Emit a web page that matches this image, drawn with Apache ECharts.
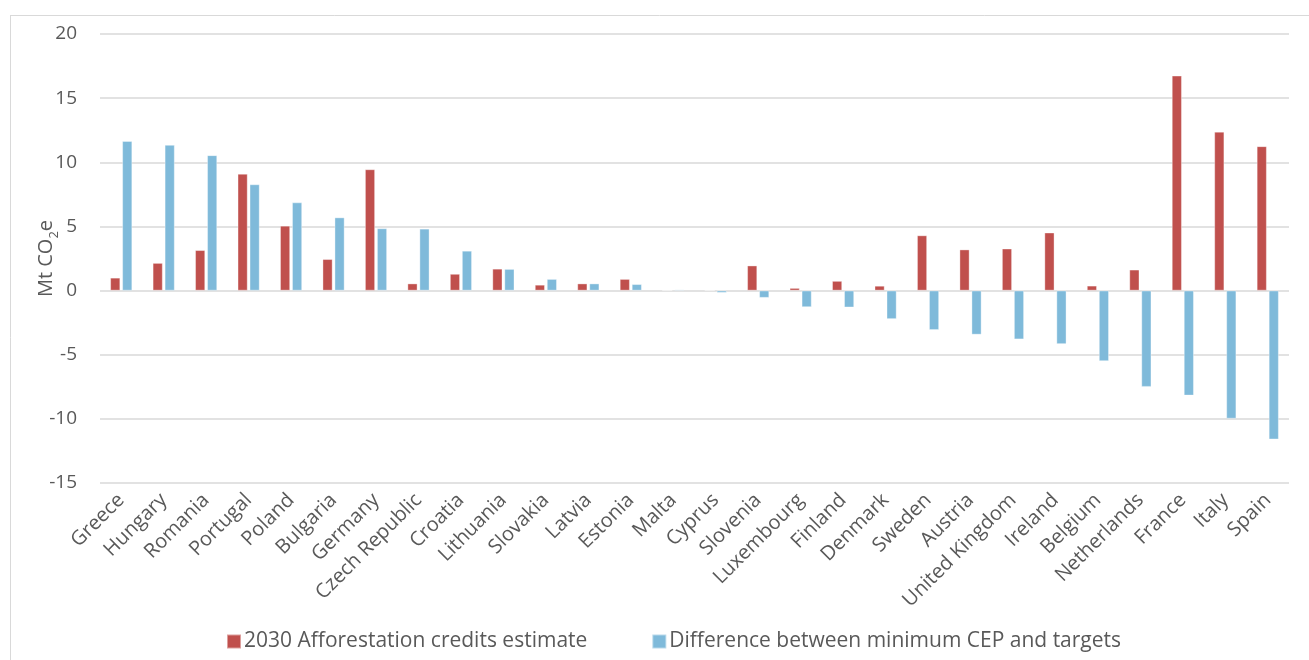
<!DOCTYPE html>
<html>
<head>
<meta charset="utf-8">
<style>
  html, body { margin: 0; padding: 0; background: #fff; }
  #chart { width: 1309px; height: 660px; }
</style>
<script src="https://cdn.jsdelivr.net/npm/echarts@6/dist/echarts.min.js"></script>
</head>
<body>
<div id="chart"></div>
<script>
// Member states, ordered by the gap between minimum CEP and targets
const countries = ['Greece', 'Hungary', 'Romania', 'Portugal', 'Poland', 'Bulgaria', 'Germany',
  'Czech Republic', 'Croatia', 'Lithuania', 'Slovakia', 'Latvia', 'Estonia', 'Malta', 'Cyprus',
  'Slovenia', 'Luxembourg', 'Finland', 'Denmark', 'Sweden', 'Austria', 'United Kingdom',
  'Ireland', 'Belgium', 'Netherlands', 'France', 'Italy', 'Spain'];

// Mt CO2e
const afforestationCredits = [1.0, 2.15, 3.15, 9.1, 5.05, 2.45, 9.45, 0.55, 1.3, 1.7, 0.45, 0.55,
  0.9, 0, 0, 1.95, 0.2, 0.75, 0.37, 4.3, 3.2, 3.27, 4.52, 0.38, 1.63, 16.75, 12.38, 11.25];
const cepDifference = [11.65, 11.35, 10.55, 8.28, 6.87, 5.7, 4.85, 4.82, 3.1, 1.68, 0.9, 0.55,
  0.5, 0.08, -0.17, -0.56, -1.29, -1.31, -2.22, -3.07, -3.43, -3.8, -4.17, -5.5, -7.5, -8.18,
  -9.98, -11.6];

const seriesNames = ['2030 Afforestation credits estimate', 'Difference between minimum CEP and targets'];
const yTicks = { min: -15, max: 20, step: 5 };

const FONT = 'Open Sans';
const TEXT = '#595959';
const GRID = '#d9d9d9';

const chart = echarts.init(document.getElementById('chart'), null, { renderer: 'canvas' });

chart.setOption({
  backgroundColor: '#ffffff',
  animation: false,
  textStyle: { fontFamily: FONT, color: TEXT },
  graphic: [
    // outer chart-area frame (top and left edges)
    { type: 'line', shape: { x1: 10, y1: 15.5, x2: 1309, y2: 15.5 }, style: { stroke: GRID, lineWidth: 1 }, silent: true },
    { type: 'line', shape: { x1: 10.5, y1: 15, x2: 10.5, y2: 660 }, style: { stroke: GRID, lineWidth: 1 }, silent: true }
  ],
  grid: { left: 100, right: 20, top: 34, bottom: 177 },
  legend: {
    left: 221,
    top: 626,
    itemWidth: 14,
    itemHeight: 14,
    itemGap: 64,
    icon: 'rect',
    textStyle: { fontFamily: FONT, fontSize: 21, color: TEXT, padding: [0, 0, 0, -2] },
    data: seriesNames
  },
  xAxis: {
    type: 'category',
    data: countries,
    axisLine: { show: false },
    axisTick: { show: false },
    axisLabel: {
      rotate: 45,
      interval: 0,
      margin: 14,
      fontFamily: FONT,
      fontSize: 20,
      color: TEXT
    }
  },
  yAxis: {
    type: 'value',
    min: yTicks.min,
    max: yTicks.max,
    interval: yTicks.step,
    name: '{a|Mt CO}{s|2}{a|e}',
    nameLocation: 'middle',
    nameRotate: 90,
    nameGap: 44,
    nameMoveOverlap: false,
    nameTextStyle: {
      rich: {
        a: { fontFamily: FONT, fontSize: 20, color: TEXT, verticalAlign: 'bottom', lineHeight: 24 },
        s: { fontFamily: FONT, fontSize: 13, color: TEXT, verticalAlign: 'bottom', lineHeight: 16, padding: [0, 0, -5, 0] }
      }
    },
    axisLine: { show: false },
    axisTick: { show: false },
    axisLabel: { margin: 23, fontFamily: FONT, fontSize: 19, color: TEXT },
    splitLine: { lineStyle: { color: GRID, width: 1.5 } }
  },
  series: [
    {
      name: seriesNames[0],
      type: 'bar',
      data: afforestationCredits,
      barWidth: 10,
      barGap: '20%',
      itemStyle: { color: '#C0504D', borderColor: 'rgba(255,255,255,0.45)', borderWidth: 0.8 }
    },
    {
      name: seriesNames[1],
      type: 'bar',
      data: cepDifference,
      barWidth: 10,
      barGap: '20%',
      itemStyle: { color: '#7FBADA', borderColor: 'rgba(255,255,255,0.45)', borderWidth: 0.8 }
    }
  ]
});
</script>
</body>
</html>
